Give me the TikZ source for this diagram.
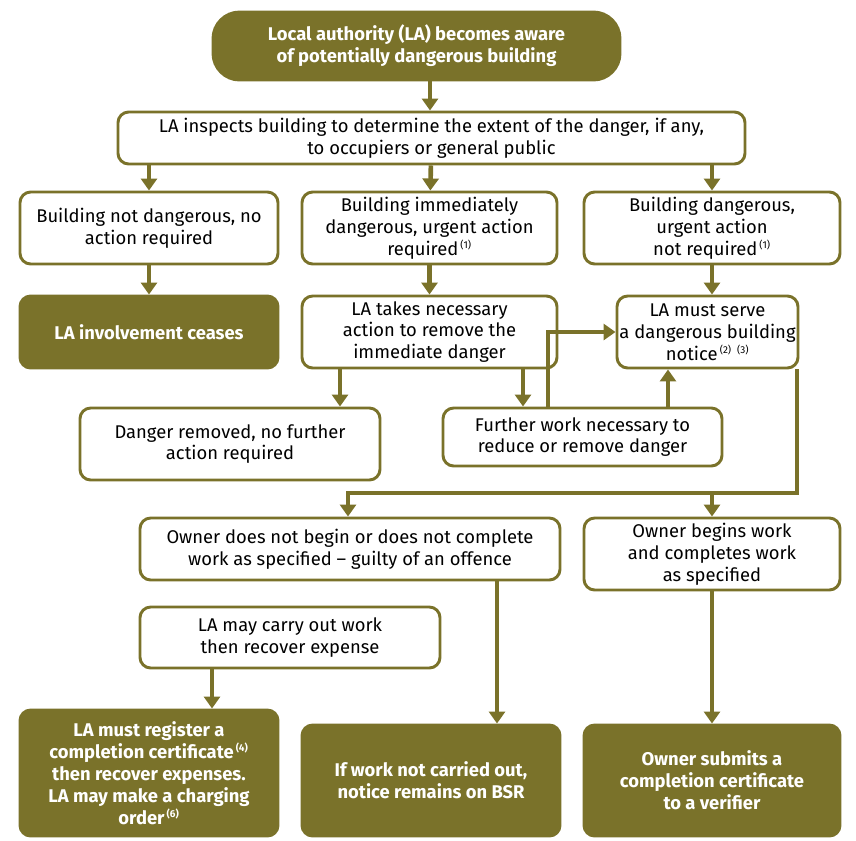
\documentclass[tikz,border=0pt]{standalone}
\usepackage{fontspec}
\setmainfont{Fira Sans}
\usetikzlibrary{arrows.meta}
\definecolor{olive}{RGB}{122,114,42}
\newcommand{\fn}[1]{\textsuperscript{\,\fontsize{7.5}{7.5}\selectfont(#1)}}
\begin{document}
\begin{tikzpicture}[x=0.75pt,y=-0.75pt,
    box/.style={draw=olive,line width=2.2pt,rounded corners=8pt,fill=white,align=center,
      font=\fontsize{13.8}{16.4}\selectfont,inner sep=0pt},
    dark/.style={box,fill=olive,text=white,font=\fontsize{13.8}{16.4}\selectfont\bfseries},
    arr/.style={draw=olive,line width=3.5pt,-{Triangle[length=9pt,width=12pt]}},
    ln/.style={draw=olive,line width=3.5pt}]
\useasboundingbox (0,0) rectangle (856,840);
% boxes
\node[dark,rounded corners=20pt,minimum width={407*0.75pt},minimum height={68*0.75pt}] (aware) at (416.5,46)
  {Local authority (LA) becomes aware\\of potentially dangerous building};
\node[box,minimum width={627*0.75pt},minimum height={52*0.75pt}] (inspect) at (431.5,138)
  {LA inspects building to determine the extent of the danger, if any,\\to occupiers or general public};
\node[box,minimum width={258*0.75pt},minimum height={72*0.75pt}] (safe) at (149,228)
  {Building not dangerous, no\\action required};
\node[box,minimum width={255*0.75pt},minimum height={72*0.75pt}] (urgent) at (429.5,228)
  {Building immediately\\dangerous, urgent action\\required\fn{1}};
\node[box,minimum width={256*0.75pt},minimum height={72*0.75pt}] (noturgent) at (712,228)
  {Building dangerous,\\urgent action\\not required\fn{1}};
\node[dark,minimum width={258*0.75pt},minimum height={72*0.75pt}] (ceases) at (149,332)
  {LA involvement ceases};
\node[box,minimum width={255*0.75pt},minimum height={72*0.75pt}] (takes) at (429.5,332)
  {LA takes necessary\\action to remove the\\immediate danger};
\node[box,minimum width={181*0.75pt},minimum height={72*0.75pt}] (serve) at (707.5,332)
  {LA must serve\\a dangerous building\\notice\fn{2}\,\fn{3}};
\node[box,minimum width={300*0.75pt},minimum height={72*0.75pt}] (removed) at (230,444)
  {Danger removed, no further\\action required};
\node[box,minimum width={279*0.75pt},minimum height={58*0.75pt}] (further) at (582.5,437)
  {Further work necessary to\\reduce or remove danger};
\node[box,minimum width={420*0.75pt},minimum height={62*0.75pt}] (fails) at (350,549)
  {Owner does not begin or does not complete\\work as specified -- guilty of an offence};
\node[box,minimum width={256*0.75pt},minimum height={72*0.75pt}] (begins) at (712,554)
  {Owner begins work\\and completes work\\as specified};
\node[box,minimum width={300*0.75pt},minimum height={61*0.75pt}] (carry) at (290,637.5)
  {LA may carry out work\\then recover expense};
\node[dark,minimum width={258*0.75pt},minimum height={126*0.75pt}] (register) at (149,773)
  {LA must register a\\completion certificate\fn{4}\\then recover expenses.\\LA may make a charging\\order\fn{6}};
\node[dark,minimum width={258*0.75pt},minimum height={111*0.75pt}] (onbsr) at (431,780.5)
  {If work not carried out,\\notice remains on BSR};
\node[dark,minimum width={256*0.75pt},minimum height={111*0.75pt}] (submits) at (712,780.5)
  {Owner submits a\\completion certificate\\to a verifier};
% connectors
\draw[arr] (aware.south -| 430,0) -- (inspect.north -| 430,0);
\draw[arr] (inspect.south -| safe) -- (safe);
\draw[arr] (inspect) -- (urgent);
\draw[arr] (inspect.south -| noturgent) -- (noturgent);
\draw[arr] (safe) -- (ceases);
\draw[arr] (urgent) -- (takes);
\draw[arr] (noturgent) -- (serve.north -| noturgent);
\draw[arr] (takes.south -| 340,0) -- (removed.north -| 340,0);
\draw[arr] (takes.south -| 523,0) -- (further.north -| 523,0);
\draw[arr] (further.north -| 548,0) |- (serve.west);
\draw[arr] (further.north -| 668,0) -- (serve.south -| 668,0);
\coordinate (corner) at (797,493);
\draw[arr] (serve.south -| corner) -- (corner) -| (fails.north -| 348,0);
\draw[arr] (corner -| begins) -- (begins);
\draw[arr] (carry.south -| 212,0) -- (register.north -| 212,0);
\draw[arr] (fails.south -| 497,0) -- (onbsr.north -| 497,0);
\draw[arr] (begins) -- (submits);
\end{tikzpicture}
\end{document}
